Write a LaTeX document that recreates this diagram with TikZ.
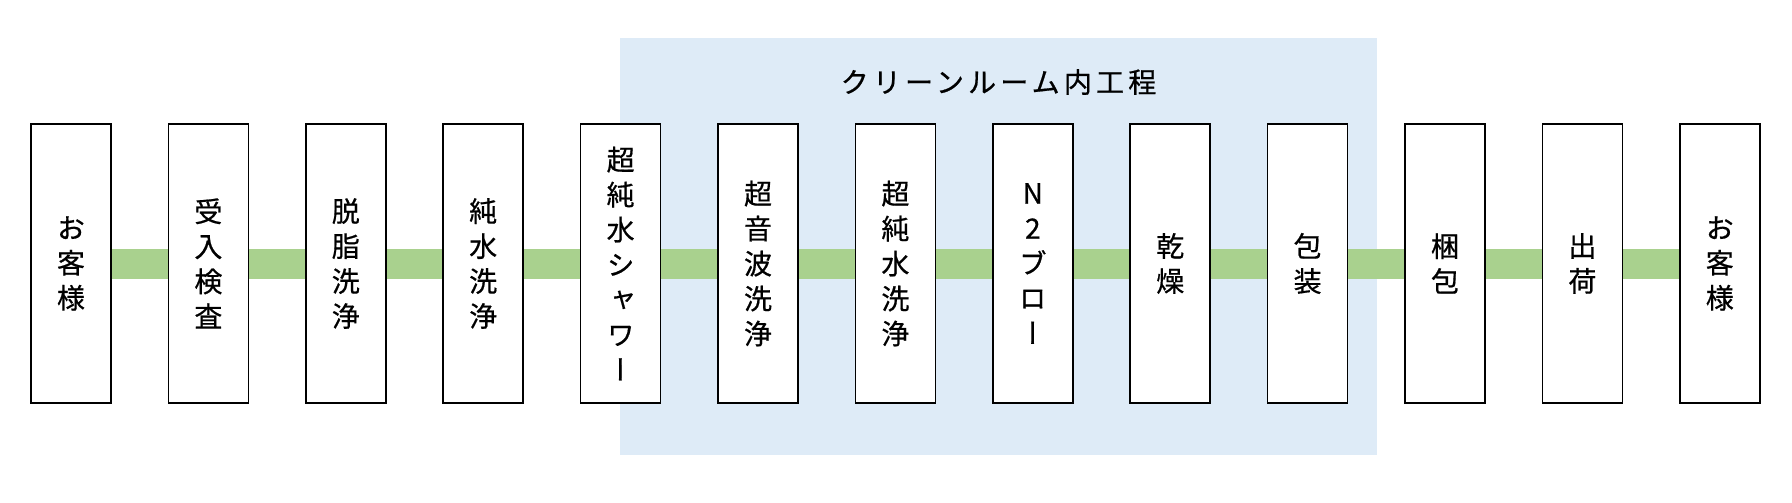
\documentclass[tikz,border=0pt]{standalone}
\usepackage{fontspec}
\newfontfamily\jpv[RawFeature=+vert,FakeBold=0.6]{Noto Sans CJK JP}
\newfontfamily\jp[LetterSpace=15,FakeBold=0.6]{Noto Sans CJK JP}
\definecolor{band}{HTML}{A9D18E}
\definecolor{room}{HTML}{DEEBF7}
\pgfdeclarelayer{bg}
\pgfsetlayers{bg,main}
\begin{document}
\begin{tikzpicture}[x=1pt,y=-1pt,
  stepbox/.style={draw=black, line width=1.6pt, fill=white,
    minimum width=80pt, minimum height=279pt, inner sep=0pt,
    align=center, font=\jpv\fontsize{28}{35}\selectfont},
  link/.style={draw=band, line width=30pt},
  titletext/.style={font=\jp\fontsize{28}{34}\selectfont, inner sep=0pt}]
\useasboundingbox (0,0) rectangle (1792,503);
\node[stepbox] (b1)  at (71.0,263.5)   {お\\客\\様};
\node[stepbox] (b2)  at (208.4,263.5)  {受\\入\\検\\査};
\node[stepbox] (b3)  at (345.8,263.5)  {脱\\脂\\洗\\浄};
\node[stepbox] (b4)  at (483.2,263.5)  {純\\水\\洗\\浄};
\node[stepbox] (b5)  at (620.6,263.5)  {超\\純\\水\\シ\\ャ\\ワ\\ー};
\node[stepbox] (b6)  at (758.0,263.5)  {超\\音\\波\\洗\\浄};
\node[stepbox] (b7)  at (895.4,263.5)  {超\\純\\水\\洗\\浄};
\node[stepbox] (b8)  at (1032.8,263.5) {N\\2\\ブ\\ロ\\ー};
\node[stepbox] (b9)  at (1170.2,263.5) {乾\\燥};
\node[stepbox] (b10) at (1307.6,263.5) {包\\装};
\node[stepbox] (b11) at (1445.0,263.5) {梱\\包};
\node[stepbox] (b12) at (1582.4,263.5) {出\\荷};
\node[stepbox] (b13) at (1719.8,263.5) {お\\客\\様};
\node[titletext] (title) at (998.5,82) {クリーンルーム内工程};
\begin{pgfonlayer}{bg}
  \fill[room] (620,38) rectangle (1377,455);
  \foreach \i [count=\j from 2] in {1,...,12}
    \draw[link] (b\i.east) -- (b\j.west);
\end{pgfonlayer}
\end{tikzpicture}
\end{document}
